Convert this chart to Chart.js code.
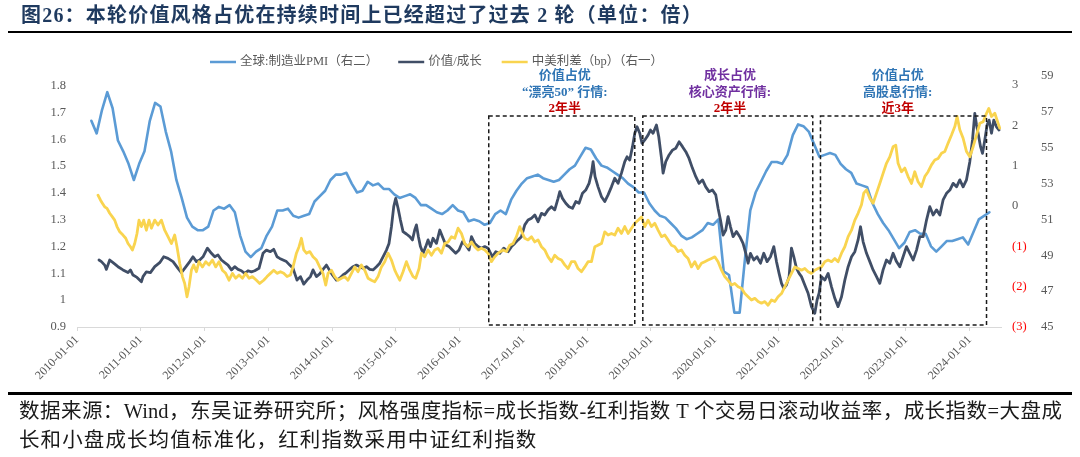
<!DOCTYPE html>
<html lang="zh-CN">
<head>
<meta charset="utf-8">
<script src="https://cdn.jsdelivr.net/npm/chart.js@4.4.1/dist/chart.umd.min.js"></script>
<style>
  html, body { margin: 0; padding: 0; background: #fff; }
  #page { position: relative; width: 1080px; height: 457px; overflow: hidden; }
  #chart { position: absolute; left: 0; top: 0; }
  #title { position: absolute; left: 21px; top: 4px; font: bold 20px "Liberation Serif", "Noto Sans CJK SC", serif; color: #1f3a5f; letter-spacing: 1.2px; line-height: 22px; white-space: nowrap; }
  .rule { position: absolute; left: 8px; width: 1064px; background: #000; }
  #rule1 { top: 31px; height: 2px; }
  #rule2 { top: 392px; height: 3px; }
  #src { position: absolute; left: 19px; top: 397px; font: 20.5px "Liberation Serif", "Noto Sans CJK SC", serif; color: #1a1a1a; line-height: 29px; }
  #src .l1 { width: 1043px; text-align: justify; text-align-last: justify; white-space: nowrap; }
  #src .l2 { white-space: nowrap; letter-spacing: 1.1px; }
</style>
</head>
<body>
<div id="page">
  <canvas id="chart" width="1080" height="457"></canvas>
  <div id="title">图26：本轮价值风格占优在持续时间上已经超过了过去 2 轮（单位：倍）</div>
  <div class="rule" id="rule1"></div>
  <div class="rule" id="rule2"></div>
  <div id="src">
    <div class="l1">数据来源：Wind，东吴证券研究所；风格强度指标=成长指数-红利指数 T 个交易日滚动收益率，成长指数=大盘成</div>
    <div class="l2">长和小盘成长均值标准化，红利指数采用中证红利指数</div>
  </div>
</div>
<script>
// ---- tick labels ----
const xTickYears = [2010, 2011, 2012, 2013, 2014, 2015, 2016, 2017, 2018, 2019, 2020, 2021, 2022, 2023, 2024];
const leftTicks = [0.9, 1.0, 1.1, 1.2, 1.3, 1.4, 1.5, 1.6, 1.7, 1.8];
const spreadTicks = [-3, -2, -1, 0, 1, 2, 3];
const pmiTicks = [45, 47, 49, 51, 53, 55, 57, 59];

// ---- 全球制造业PMI, monthly from 2010-03 ----
const pmiValues = [
  56.5, 55.8, 57.1, 58.1, 57.2, 55.4, 54.8, 54.1, 53.2, 54.1,
  54.8, 56.5, 57.5, 57.3, 55.9, 54.8, 53.2, 52.2, 51.1, 50.6,
  50.4, 50.4, 50.6, 51.5, 51.7, 51.6, 51.8, 51.4, 50.1, 49.2,
  48.9, 49.2, 49.4, 50.1, 50.6, 51.5, 51.5, 51.6, 51.2, 51.1,
  51.2, 51.3, 52.0, 52.3, 52.6, 53.2, 53.5, 53.5, 53.6, 53.0,
  52.5, 52.6, 53.1, 52.9, 53.0, 52.7, 52.7, 52.4, 52.2, 52.3,
  52.4, 52.2, 51.8, 51.8, 51.6, 51.4, 51.3, 51.5, 51.8, 51.5,
  51.4, 50.9, 51.0, 50.9, 50.7, 50.8, 51.3, 51.5, 51.3, 52.1,
  52.6, 53.0, 53.3, 53.4, 53.5, 53.3, 53.2, 53.1, 53.2, 53.5,
  53.8, 54.0, 54.5, 55.0, 54.9, 54.4, 54.0, 53.9, 53.7, 53.5,
  53.3, 53.0, 52.8, 52.5, 52.5, 51.9, 51.5, 51.2, 51.1, 50.8,
  50.5, 50.1, 49.9, 50.0, 50.2, 50.4, 50.8, 50.7, 51.0, 48.1,
  47.9, 45.8, 45.8, 48.8, 51.5, 52.5, 53.1, 53.7, 54.2, 54.2,
  54.1, 54.6, 55.7, 56.3, 56.2, 55.9, 55.2, 54.5, 54.6, 54.7,
  54.6, 54.1, 53.8, 53.6, 53.0, 52.9, 52.8, 51.9, 51.3, 50.8,
  50.4, 49.9, 49.4, 49.7, 50.3, 50.4, 50.2, 50.2, 49.5, 49.2,
  49.5, 49.8, 49.8, 49.9, 50.0, 49.6, 50.3, 51.0, 51.2, 51.4
];

// ---- 价值/成长: [years after 2010-01-01, value] ----
const valueGrowth = [
  [0.345,1.150],[0.383,1.144],[0.434,1.131],[0.461,1.115],[0.513,1.150],[0.565,1.140],[0.643,1.125],[0.721,1.113],
  [0.800,1.103],[0.838,1.113],[0.878,1.094],[0.941,1.085],[1.010,1.069],[1.035,1.088],[1.088,1.106],[1.151,1.103],
  [1.219,1.125],[1.297,1.140],[1.360,1.162],[1.427,1.156],[1.506,1.144],[1.584,1.119],[1.637,1.103],[1.689,1.119],
  [1.768,1.144],[1.819,1.162],[1.873,1.144],[1.924,1.150],[1.976,1.162],[2.045,1.194],[2.108,1.175],[2.160,1.162],
  [2.211,1.169],[2.265,1.150],[2.317,1.140],[2.368,1.131],[2.422,1.113],[2.473,1.125],[2.525,1.115],[2.578,1.110],
  [2.630,1.100],[2.682,1.110],[2.735,1.106],[2.787,1.110],[2.854,1.119],[2.917,1.175],[2.971,1.187],[3.033,1.181],
  [3.085,1.190],[3.137,1.162],[3.179,1.156],[3.231,1.150],[3.284,1.144],[3.336,1.131],[3.388,1.119],[3.414,1.100],
  [3.450,1.075],[3.504,1.088],[3.556,1.060],[3.607,1.075],[3.661,1.088],[3.701,1.113],[3.755,1.088],[3.806,1.098],
  [3.858,1.115],[3.912,1.131],[3.952,1.115],[4.006,1.094],[4.068,1.075],[4.120,1.082],[4.172,1.094],[4.225,1.103],
  [4.277,1.115],[4.329,1.125],[4.382,1.131],[4.434,1.125],[4.486,1.119],[4.539,1.125],[4.591,1.115],[4.642,1.113],
  [4.696,1.125],[4.748,1.138],[4.799,1.162],[4.853,1.187],[4.893,1.212],[4.931,1.274],[4.967,1.349],[4.998,1.380],
  [5.035,1.343],[5.072,1.299],[5.113,1.256],[5.166,1.247],[5.218,1.237],[5.260,1.225],[5.296,1.262],[5.323,1.281],
  [5.354,1.237],[5.386,1.200],[5.427,1.175],[5.469,1.200],[5.505,1.225],[5.543,1.200],[5.583,1.231],[5.637,1.212],
  [5.689,1.262],[5.731,1.237],[5.783,1.206],[5.834,1.200],[5.888,1.187],[5.939,1.175],[5.991,1.187],[6.045,1.218],
  [6.096,1.206],[6.148,1.187],[6.186,1.237],[6.237,1.212],[6.289,1.200],[6.342,1.194],[6.394,1.200],[6.446,1.194],
  [6.473,1.181],[6.515,1.162],[6.567,1.181],[6.630,1.175],[6.692,1.194],[6.760,1.181],[6.813,1.200],[6.865,1.212],
  [6.917,1.225],[6.970,1.237],[7.022,1.281],[7.073,1.299],[7.127,1.306],[7.179,1.318],[7.230,1.293],[7.284,1.324],
  [7.335,1.318],[7.387,1.337],[7.440,1.349],[7.492,1.337],[7.544,1.380],[7.571,1.405],[7.613,1.380],[7.665,1.362],
  [7.716,1.349],[7.770,1.343],[7.822,1.368],[7.873,1.362],[7.927,1.399],[7.978,1.411],[8.030,1.436],[8.068,1.474],
  [8.093,1.517],[8.124,1.461],[8.171,1.423],[8.225,1.386],[8.276,1.368],[8.328,1.393],[8.381,1.423],[8.433,1.455],
  [8.485,1.436],[8.538,1.474],[8.590,1.517],[8.626,1.535],[8.668,1.523],[8.711,1.573],[8.747,1.623],[8.783,1.647],
  [8.825,1.623],[8.861,1.585],[8.904,1.598],[8.955,1.616],[8.993,1.635],[9.034,1.623],[9.087,1.654],[9.123,1.610],
  [9.166,1.529],[9.191,1.474],[9.233,1.517],[9.285,1.542],[9.338,1.560],[9.390,1.567],[9.442,1.591],[9.495,1.573],
  [9.547,1.554],[9.598,1.529],[9.652,1.492],[9.704,1.461],[9.755,1.436],[9.809,1.449],[9.860,1.423],[9.912,1.405],
  [9.965,1.411],[10.017,1.393],[10.053,1.343],[10.091,1.299],[10.132,1.243],[10.174,1.262],[10.210,1.312],[10.248,1.274],
  [10.289,1.237],[10.342,1.256],[10.394,1.237],[10.445,1.212],[10.488,1.175],[10.524,1.138],[10.561,1.175],[10.613,1.150],
  [10.665,1.162],[10.718,1.138],[10.770,1.175],[10.822,1.144],[10.875,1.162],[10.927,1.200],[10.969,1.144],[11.010,1.100],
  [11.048,1.063],[11.084,1.044],[11.126,1.057],[11.167,1.088],[11.204,1.194],[11.241,1.162],[11.283,1.119],[11.324,1.100],
  [11.361,1.088],[11.413,1.057],[11.465,1.026],[11.518,0.976],[11.570,0.951],[11.606,1.001],[11.637,1.026],[11.675,1.088],
  [11.727,1.075],[11.779,1.100],[11.832,1.050],[11.884,1.007],[11.935,0.976],[11.989,1.013],[12.041,1.075],[12.093,1.125],
  [12.146,1.162],[12.198,1.181],[12.249,1.225],[12.287,1.274],[12.328,1.218],[12.381,1.175],[12.433,1.144],[12.484,1.113],
  [12.538,1.088],[12.589,1.063],[12.641,1.113],[12.694,1.150],[12.746,1.138],[12.798,1.175],[12.851,1.144],[12.903,1.125],
  [12.955,1.162],[13.008,1.200],[13.060,1.175],[13.112,1.150],[13.165,1.187],[13.217,1.237],[13.269,1.237],[13.322,1.299],
  [13.374,1.349],[13.426,1.318],[13.479,1.337],[13.531,1.318],[13.582,1.374],[13.636,1.399],[13.688,1.411],[13.739,1.436],
  [13.793,1.423],[13.844,1.449],[13.896,1.423],[13.949,1.449],[14.001,1.517],[14.043,1.598],[14.079,1.697],[14.106,1.654],
  [14.131,1.623],[14.169,1.573],[14.200,1.548],[14.236,1.598],[14.272,1.654],[14.303,1.672],[14.341,1.623],[14.377,1.672],
  [14.419,1.647],[14.460,1.635]
];

// ---- 中美利差: [years after 2010-01-01, value] ----
const spread = [
  [0.329,0.27],[0.367,0.15],[0.398,0.07],[0.434,-0.02],[0.471,-0.06],[0.513,-0.18],[0.555,-0.27],[0.591,-0.35],
  [0.627,-0.51],[0.670,-0.64],[0.721,-0.72],[0.764,-0.80],[0.800,-0.93],[0.838,-1.01],[0.869,-1.09],[0.905,-0.93],
  [0.941,-0.68],[0.972,-0.35],[1.010,-0.51],[1.046,-0.35],[1.088,-0.60],[1.129,-0.35],[1.167,-0.55],[1.219,-0.35],
  [1.270,-0.47],[1.324,-0.35],[1.375,-0.60],[1.427,-0.76],[1.481,-0.93],[1.532,-0.72],[1.568,-1.01],[1.611,-1.42],
  [1.653,-1.75],[1.689,-1.92],[1.725,-2.25],[1.757,-2.00],[1.794,-1.59],[1.830,-1.46],[1.873,-1.63],[1.913,-1.38],
  [1.967,-1.51],[2.019,-1.38],[2.070,-1.46],[2.124,-1.34],[2.175,-1.51],[2.227,-1.38],[2.280,-1.59],[2.332,-1.67],
  [2.384,-1.84],[2.437,-1.67],[2.489,-1.79],[2.541,-1.71],[2.594,-1.79],[2.646,-1.67],[2.698,-1.79],[2.751,-1.75],
  [2.814,-1.84],[2.865,-1.92],[2.928,-1.84],[2.980,-1.75],[3.033,-1.67],[3.085,-1.59],[3.137,-1.67],[3.190,-1.63],
  [3.242,-1.67],[3.294,-1.75],[3.347,-1.71],[3.388,-1.51],[3.441,-1.17],[3.482,-1.01],[3.519,-0.80],[3.556,-1.09],
  [3.598,-1.17],[3.650,-1.13],[3.701,-1.26],[3.755,-1.34],[3.806,-1.51],[3.858,-1.67],[3.901,-1.96],[3.937,-1.67],
  [3.990,-1.59],[4.042,-1.75],[4.093,-1.84],[4.147,-1.79],[4.199,-1.75],[4.250,-1.84],[4.304,-1.67],[4.355,-1.51],
  [4.407,-1.63],[4.460,-1.46],[4.512,-1.59],[4.564,-1.79],[4.617,-1.84],[4.669,-1.88],[4.721,-1.75],[4.774,-1.51],
  [4.826,-1.38],[4.878,-1.17],[4.931,-1.34],[4.983,-1.59],[5.019,-1.71],[5.061,-1.84],[5.113,-1.63],[5.166,-1.38],
  [5.218,-1.59],[5.270,-1.75],[5.312,-1.79],[5.364,-1.55],[5.401,-1.17],[5.453,-1.26],[5.505,-1.09],[5.558,-1.22],
  [5.610,-1.09],[5.662,-1.05],[5.715,-1.17],[5.767,-0.93],[5.819,-0.89],[5.872,-0.76],[5.924,-0.80],[5.976,-0.55],
  [6.029,-0.68],[6.081,-0.93],[6.132,-1.01],[6.186,-0.89],[6.237,-1.01],[6.289,-1.09],[6.342,-1.05],[6.394,-1.09],
  [6.446,-1.17],[6.499,-1.38],[6.551,-1.26],[6.603,-1.17],[6.681,-1.09],[6.735,-1.13],[6.786,-0.97],[6.838,-0.93],
  [6.891,-0.76],[6.943,-0.51],[6.986,-0.68],[7.022,-0.80],[7.073,-0.84],[7.127,-0.76],[7.179,-0.89],[7.230,-0.84],
  [7.284,-1.01],[7.335,-1.09],[7.387,-1.26],[7.440,-1.38],[7.492,-1.22],[7.544,-1.30],[7.597,-1.34],[7.649,-1.46],
  [7.701,-1.55],[7.754,-1.38],[7.806,-1.38],[7.858,-1.55],[7.911,-1.63],[7.963,-1.51],[8.014,-1.38],[8.068,-1.38],
  [8.120,-1.01],[8.171,-0.97],[8.225,-0.93],[8.276,-0.64],[8.328,-0.72],[8.381,-0.68],[8.433,-0.72],[8.485,-0.55],
  [8.538,-0.68],[8.590,-0.51],[8.642,-0.68],[8.695,-0.55],[8.747,-0.43],[8.799,-0.35],[8.852,-0.27],[8.904,-0.51],
  [8.955,-0.35],[9.009,-0.51],[9.061,-0.43],[9.112,-0.60],[9.166,-0.76],[9.218,-0.72],[9.269,-0.84],[9.322,-0.97],
  [9.374,-1.01],[9.426,-1.13],[9.479,-1.09],[9.531,-1.22],[9.583,-1.30],[9.636,-1.51],[9.688,-1.38],[9.740,-1.55],
  [9.793,-1.42],[9.845,-1.38],[9.896,-1.34],[9.950,-1.30],[10.002,-1.26],[10.053,-1.38],[10.107,-1.59],[10.158,-1.75],
  [10.210,-1.84],[10.263,-1.96],[10.315,-1.92],[10.367,-2.00],[10.420,-2.04],[10.472,-2.17],[10.524,-2.25],[10.577,-2.33],
  [10.629,-2.29],[10.681,-2.37],[10.734,-2.41],[10.786,-2.37],[10.837,-2.46],[10.891,-2.33],[10.943,-2.37],[10.994,-2.25],
  [11.048,-2.17],[11.100,-2.00],[11.151,-1.84],[11.204,-1.67],[11.256,-1.51],[11.308,-1.55],[11.361,-1.59],[11.413,-1.55],
  [11.465,-1.63],[11.518,-1.67],[11.570,-1.59],[11.622,-1.55],[11.675,-1.51],[11.727,-1.38],[11.779,-1.34],[11.832,-1.38],
  [11.884,-1.30],[11.935,-1.38],[11.989,-1.17],[12.041,-1.01],[12.093,-0.76],[12.146,-0.60],[12.198,-0.35],[12.249,-0.18],
  [12.302,0.03],[12.338,0.32],[12.381,0.40],[12.433,0.19],[12.484,0.07],[12.538,0.32],[12.589,0.56],[12.641,0.81],
  [12.694,1.06],[12.746,1.22],[12.798,1.47],[12.840,1.51],[12.876,1.06],[12.929,0.85],[12.981,0.94],[13.033,0.73],
  [13.086,0.56],[13.138,0.85],[13.190,0.60],[13.243,0.48],[13.295,0.73],[13.347,0.85],[13.400,1.02],[13.452,1.14],
  [13.504,1.18],[13.557,1.31],[13.609,1.35],[13.661,1.56],[13.714,1.76],[13.766,1.97],[13.802,2.22],[13.844,1.89],
  [13.896,1.68],[13.949,1.35],[14.001,1.22],[14.053,1.47],[14.106,1.76],[14.158,2.05],[14.210,2.09],[14.263,2.30],
  [14.299,2.42],[14.341,2.22],[14.393,2.30],[14.445,2.05],[14.471,1.93]
];

// ---- dashed boxes and their captions (x in years, y on left axis) ----
const boxes = [
  { from: 2016.457, to: 2018.747, labelAt: 2017.65, color: '#2f75b5', lines: ['价值占优', '“漂亮50” 行情:', '2年半'] },
  { from: 2018.873, to: 2021.538, labelAt: 2020.24, color: '#7030a0', lines: ['成长占优', '核心资产行情:', '2年半'] },
  { from: 2021.659, to: 2024.263, labelAt: 2022.87, color: '#2f75b5', lines: ['价值占优', '高股息行情:', '近3年'] }
];
const boxTop = 1.687;
const boxBottom = 0.907;

const SERIF = '"Liberation Serif", "Noto Sans CJK SC", serif';
const AXIS_GREY = '#595959';

function monthPoints(startYear, startMonth, values) {
  return values.map((v, i) => {
    const m = startMonth - 1 + i;
    return { x: startYear + Math.floor(m / 12) + ((m % 12) + 0.7) / 12, y: v };
  });
}
const toPoints = pairs => pairs.map(p => ({ x: 2010 + p[0], y: p[1] }));
const fixTicks = list => scale => { scale.ticks = list.map(v => ({ value: v })); };

const overlay = {
  id: 'overlay',
  afterDatasetsDraw(chart) {
    const { ctx, chartArea, scales: { x, y } } = chart;
    ctx.save();

    // dashed period boxes
    ctx.setLineDash([4, 3]);
    ctx.lineWidth = 1.5;
    ctx.strokeStyle = '#1a1a1a';
    boxes.forEach(b => {
      const l = x.getPixelForValue(b.from), r = x.getPixelForValue(b.to);
      const t = y.getPixelForValue(boxTop), btm = y.getPixelForValue(boxBottom);
      ctx.strokeRect(l, t, r - l, btm - t);
    });
    ctx.setLineDash([]);

    // captions above the boxes
    ctx.textAlign = 'center';
    ctx.textBaseline = 'middle';
    ctx.font = 'bold 13px ' + SERIF;
    boxes.forEach(b => {
      const cx = x.getPixelForValue(b.labelAt);
      b.lines.forEach((s, i) => {
        ctx.fillStyle = i === 2 ? '#c00000' : b.color;
        ctx.fillText(s, cx, chartArea.top + i * 16.5);
      });
    });

    // legend
    ctx.font = '12.5px ' + SERIF;
    ctx.textAlign = 'left';
    ctx.lineWidth = 2.5;
    let lx = 210;
    const ly = 62;
    chart.data.datasets.forEach(ds => {
      ctx.strokeStyle = ds.borderColor;
      ctx.beginPath();
      ctx.moveTo(lx, ly);
      ctx.lineTo(lx + 26, ly);
      ctx.stroke();
      ctx.fillStyle = AXIS_GREY;
      ctx.fillText(ds.label, lx + 30, ly);
      lx += 30 + ctx.measureText(ds.label).width + 20;
    });
    ctx.restore();
  }
};

Chart.defaults.font.family = SERIF;

new Chart(document.getElementById('chart'), {
  type: 'line',
  data: {
    datasets: [
      {
        label: '全球:制造业PMI（右二）',
        data: monthPoints(2010, 3, pmiValues),
        yAxisID: 'yPmi',
        borderColor: '#5b9bd5',
        borderWidth: 2.6,
        order: 3
      },
      {
        label: '价值/成长',
        data: toPoints(valueGrowth),
        yAxisID: 'y',
        borderColor: '#404e66',
        borderWidth: 2.8,
        order: 2
      },
      {
        label: '中美利差（bp）（右一）',
        data: toPoints(spread),
        yAxisID: 'ySpread',
        borderColor: '#f9d44f',
        borderWidth: 2.8,
        order: 1
      }
    ]
  },
  options: {
    responsive: false,
    animation: false,
    devicePixelRatio: 1,
    layout: { padding: { top: 76, bottom: 70, left: 0, right: 0 } },
    elements: {
      point: { radius: 0 },
      line: { tension: 0, borderJoinStyle: 'round', borderCapStyle: 'round' }
    },
    plugins: {
      legend: { display: false },
      tooltip: { enabled: false }
    },
    scales: {
      x: {
        type: 'linear',
        min: 2010,
        max: 2024.49,
        afterBuildTicks: fixTicks(xTickYears),
        afterFit: s => { s.height = 60; },
        ticks: {
          autoSkip: false,
          minRotation: 45,
          maxRotation: 45,
          padding: 2,
          color: AXIS_GREY,
          font: { size: 12 },
          callback: v => v + '-01-01'
        },
        grid: { display: true, drawOnChartArea: false, drawTicks: true, tickLength: 4, color: '#d9d9d9' },
        border: { display: true, color: '#d9d9d9' }
      },
      y: {
        position: 'left',
        min: 0.9,
        max: 1.8366,
        afterBuildTicks: fixTicks(leftTicks),
        afterFit: s => { s.width = 77; },
        ticks: {
          padding: 11,
          color: AXIS_GREY,
          font: { size: 12.5 },
          callback: v => String(+v.toFixed(1))
        },
        grid: { display: false, drawTicks: false },
        border: { display: false }
      },
      ySpread: {
        position: 'right',
        weight: 0,
        min: -3,
        max: 3.224,
        afterBuildTicks: fixTicks(spreadTicks),
        afterFit: s => { s.width = 38; },
        ticks: {
          padding: 11,
          font: { size: 12.5 },
          color: c => (c.tick && c.tick.value < 0 ? '#ff0000' : AXIS_GREY),
          callback: v => (v < 0 ? '(' + (-v) + ')' : String(v))
        },
        grid: { display: false, drawTicks: false },
        border: { display: false }
      },
      yPmi: {
        position: 'right',
        weight: 1,
        min: 45,
        max: 59,
        afterBuildTicks: fixTicks(pmiTicks),
        afterFit: s => { s.width = 41; },
        ticks: {
          padding: 2,
          color: AXIS_GREY,
          font: { size: 12.5 },
          callback: v => String(v)
        },
        grid: { display: false, drawTicks: false },
        border: { display: false }
      }
    }
  },
  plugins: [overlay]
});
</script>
</body>
</html>
